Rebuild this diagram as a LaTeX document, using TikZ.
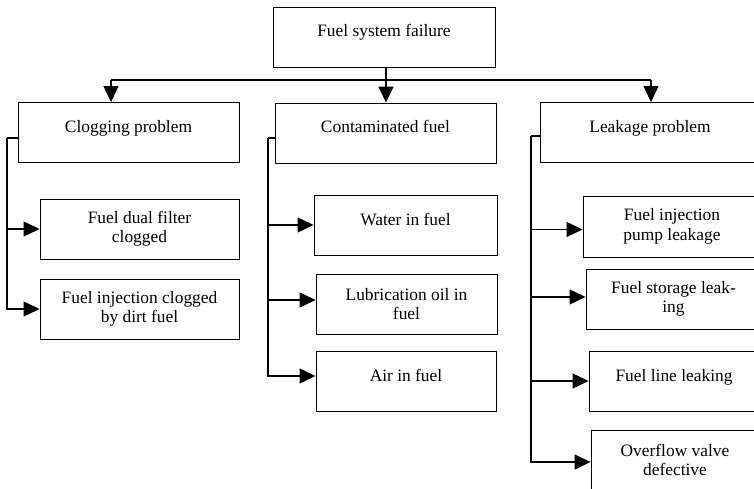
\documentclass[tikz,border=0pt]{standalone}
\usepackage{fontspec}
\setmainfont{Liberation Serif}
\usepackage{tikz}
\usetikzlibrary{arrows.meta}
\newcommand{\boxfont}{\fontsize{17.4}{19.5}\selectfont}

\begin{document}
\begin{tikzpicture}[x=1pt, y=-1pt,
	box/.style={draw, line width=0.9pt, minimum height=60pt, inner sep=0pt, align=center, font=\boxfont},
	onebox/.style={box, text height=12pt, text depth=12pt},
	link/.style={line width=1.1pt},
	arr/.style={->, line width=1.1pt, >={Triangle[length=16pt, width=15pt]}}
	]
	\useasboundingbox (0,0) rectangle (754,489);
	\clip (0,0) rectangle (754,489);
	
	% Top box
	\node[onebox, minimum width=222pt] (fail) at (384,37) {Fuel system failure};
	
	% Main branches
	\node[onebox, minimum width=221pt] (clog) at (128.5,132.5) {Clogging problem};
	\node[onebox, minimum width=221pt] (contam) at (385.5,133) {Contaminated fuel};
	\node[onebox, minimum width=220pt] (leak) at (650,132.5) {Leakage problem};
	
	% Clogging causes
	\node[box, minimum width=199pt] (dual) at (139.5,229) {Fuel dual filter\\clogged};
	\node[box, minimum width=199pt] (inject) at (139.5,309) {Fuel injection clogged\\by dirt fuel};
	
	% Contamination causes
	\node[onebox, minimum width=183pt] (water) at (405.5,225) {Water in fuel};
	\node[box, minimum width=181pt] (lube) at (406.5,304) {Lubrication oil in\\fuel};
	\node[onebox, minimum width=180pt] (air) at (406,381) {Air in fuel};
	
	% Leakage causes
	\node[box, minimum width=178pt, minimum height=61pt] (pump) at (672,226.5) {Fuel injection\\pump leakage};
	\node[box, minimum width=175pt] (store) at (673.5,299) {Fuel storage leak-\\ing};
	\node[onebox, minimum width=170pt] (fline) at (674,381) {Fuel line leaking};
	\node[box, minimum width=168pt] (valve) at (675,460) {Overflow valve\\defective};
	
	% Bus coordinates
	\coordinate (busL) at (111,80);
	\coordinate (busM) at (386,80);
	\coordinate (busR) at (651,80);
	
	% Top bus
	\draw[link] (fail.south -| busM) -- (busM);
	\draw[link] (busL) -- (busR);
	\draw[arr] (busL) -- (busL |- clog.north);
	\draw[arr] (busM) -- (busM |- contam.north);
	\draw[arr] (busR) -- (busR |- leak.north);
	
	% Side stubs
	\coordinate (clogbus) at (7,138);
	\coordinate (contbus) at (268,138);
	\coordinate (leakbus) at (531,136);
	
	\draw[link] (clogbus -| clog.west) -- (clogbus);
	\draw[arr] (clogbus) |- (dual.west);
	\draw[arr] (clogbus) |- (inject.west);
	
	\draw[link] (contbus -| contam.west) -- (contbus);
	\draw[arr] (contbus) |- (water.west);
	\draw[arr] (contbus) |- ([yshift=4pt]lube.west);
	\draw[arr] (contbus) |- ([yshift=5pt]air.west);
	
	\draw[link] (leakbus -| leak.west) -- (leakbus);
	\draw[arr] (leakbus) |- ([yshift=-3pt]pump.west);
	\draw[arr] (leakbus) |- ([yshift=2pt]store.west);
	\draw[arr] (leakbus) |- (fline.west);
	\draw[arr] (leakbus) |- ([yshift=-2pt]valve.west);
	
\end{tikzpicture}
\end{document}
